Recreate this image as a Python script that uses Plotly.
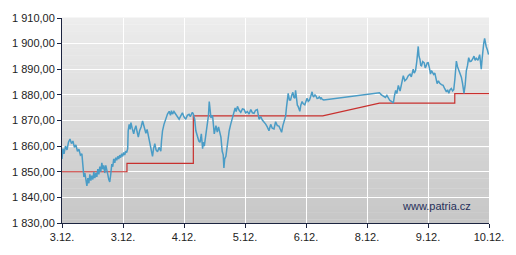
import plotly.graph_objects as go

# ---- data ----
day_ticks = [0, 1, 2, 3, 4, 5, 6, 7]
day_labels = ["3.12.", "3.12.", "4.12.", "5.12.", "6.12.", "8.12.", "9.12.", "10.12."]
y_ticks = [1830, 1840, 1850, 1860, 1870, 1880, 1890, 1900, 1910]
y_labels = ["1 830,00", "1 840,00", "1 850,00", "1 860,00", "1 870,00",
            "1 880,00", "1 890,00", "1 900,00", "1 910,00"]

price_x = [
    0, 0.016, 0.033, 0.057, 0.082, 0.106, 0.131, 0.155, 0.179, 0.204, 0.228, 0.253, 0.277, 0.302, 0.326,
    0.343, 0.359, 0.375, 0.392, 0.408, 0.424, 0.440, 0.457, 0.473, 0.489, 0.506, 0.522, 0.538, 0.555, 0.571,
    0.587, 0.604, 0.620, 0.636, 0.653, 0.669, 0.685, 0.701, 0.718, 0.734, 0.750, 0.767, 0.783, 0.799, 0.816,
    0.832, 0.848, 0.865, 0.881, 0.897, 0.914, 0.930, 0.946, 0.962, 0.979, 0.995, 1.011, 1.028, 1.044, 1.060, 1.077,
    1.085, 1.101, 1.117, 1.130, 1.150, 1.175, 1.191, 1.212, 1.232, 1.251, 1.272, 1.297, 1.321, 1.346, 1.375,
    1.395, 1.431, 1.452, 1.468, 1.484, 1.501, 1.522, 1.542, 1.566, 1.591, 1.620, 1.631, 1.648, 1.672, 1.701,
    1.729, 1.757, 1.778, 1.794, 1.811, 1.835, 1.865, 1.892, 1.920, 1.941, 1.974, 1.998, 2.028, 2.055, 2.083,
    2.104, 2.137, 2.153, 2.175,
    2.194, 2.219, 2.243, 2.263, 2.284, 2.305, 2.316, 2.333, 2.357, 2.387, 2.401, 2.414, 2.427, 2.442, 2.468,
    2.496, 2.524, 2.545, 2.566, 2.586, 2.605, 2.626, 2.643, 2.654, 2.667, 2.687, 2.708, 2.724, 2.741, 2.765,
    2.794, 2.814, 2.838, 2.855, 2.876, 2.904, 2.931, 2.958, 2.985, 3.010, 3.039, 3.067, 3.095, 3.121, 3.148,
    3.173, 3.202, 3.230, 3.258, 3.284, 3.312, 3.339, 3.365, 3.393, 3.421, 3.447, 3.475, 3.502, 3.529, 3.556,
    3.581, 3.600, 3.621, 3.638, 3.666, 3.679, 3.692,
    3.708, 3.728, 3.747, 3.768, 3.785, 3.801, 3.817, 3.829, 3.842, 3.858, 3.871, 3.886, 3.899, 3.915, 3.936,
    3.956, 3.980, 4.000, 4.018, 4.037, 4.057, 4.078, 4.100, 4.114, 4.127, 4.147, 4.165, 4.181, 4.197, 4.217,
    4.236, 4.250, 4.263, 4.290,
    5.204, 5.236, 5.269, 5.302, 5.326, 5.351, 5.375, 5.405, 5.432, 5.449, 5.470, 5.489, 5.514, 5.542, 5.563,
    5.595, 5.620, 5.649, 5.677, 5.705, 5.726, 5.758, 5.775, 5.796, 5.816, 5.829, 5.840, 5.853, 5.868, 5.881,
    5.894, 5.913, 5.938, 5.954, 5.966, 5.987, 6.003, 6.023, 6.041, 6.057, 6.073, 6.093, 6.112, 6.130, 6.150,
    6.171, 6.194, 6.220, 6.248, 6.272, 6.302, 6.321, 6.341, 6.362, 6.383, 6.403, 6.422, 6.440, 6.465, 6.484,
    6.504, 6.525, 6.547, 6.566, 6.590, 6.610, 6.628, 6.648, 6.667, 6.688, 6.710, 6.732, 6.754, 6.773, 6.791,
    6.819, 6.847, 6.860, 6.873, 6.887, 6.900, 6.913, 6.928, 6.941, 6.954, 6.974, 6.993,
]
price_y = [
    1855, 1859, 1857, 1860, 1858.5, 1861.5, 1862.8, 1861, 1862, 1859.5, 1860.5, 1858, 1858.8, 1856.5, 1857,
    1851, 1848, 1849.5, 1846, 1844.5, 1847.5, 1845.5, 1849, 1846.5, 1848.5, 1847, 1850, 1847.5, 1849.5, 1848,
    1851, 1849, 1852, 1850, 1853.5, 1851, 1852.5, 1849.5, 1852.5, 1850, 1849, 1847, 1846, 1849, 1853,
    1852, 1855, 1853.5, 1855.5, 1854.5, 1856, 1855, 1856.5, 1855.5, 1857, 1856, 1857.5, 1856.5, 1858, 1857.5, 1859,
    1866, 1868.5, 1866.5, 1869.2, 1867, 1864.8, 1866.5, 1868, 1865.5, 1863.5, 1866, 1867.5, 1869.8, 1867, 1865,
    1866.5, 1862.3, 1860, 1858.5, 1856, 1859, 1861, 1858.5, 1857.8, 1859.5, 1858, 1862, 1866, 1868.5, 1871,
    1872.5, 1873.6, 1872, 1873.8, 1872.5, 1873.5, 1872.4, 1871.5, 1870.5, 1871.5, 1873, 1871.5, 1870.5, 1872, 1872.4,
    1871.5, 1873.2, 1872.5, 1870.5,
    1866, 1864.2, 1862, 1861.5, 1864.8, 1859, 1861.5, 1860, 1864, 1869.8, 1872, 1877.4, 1874, 1871, 1872,
    1864.8, 1868, 1865.5, 1867.5, 1865, 1863.5, 1858, 1856.6, 1851.5, 1855, 1856, 1860.5, 1862.5, 1866, 1868.5,
    1871, 1873, 1874.9, 1873.5, 1875.5, 1874, 1873.2, 1874.5, 1874.3, 1873, 1873.5, 1872.5, 1874.3, 1873, 1872.8,
    1874, 1874.3, 1870.5, 1871.5, 1870.2, 1869.5, 1868.6, 1867.5, 1866, 1868.5, 1867, 1866.7, 1869.5, 1868, 1867.8,
    1866.5, 1865.4, 1868, 1869.5, 1871.7, 1874.9, 1879.3,
    1880.6, 1878, 1878, 1880, 1881, 1879, 1878.7, 1881.8, 1879, 1876, 1875.5, 1874.5, 1873.6, 1876, 1877.4,
    1876.5, 1876.1, 1877.5, 1878.7, 1877.5, 1878, 1879.5, 1881.2, 1879.5, 1879.3, 1880, 1879.5, 1878.6, 1878.7, 1879.2,
    1878.5, 1879, 1878.3, 1878,
    1880.8, 1880, 1879.5, 1879, 1879.8, 1878.7, 1877.8, 1877.4, 1876.8, 1879.5, 1881.7, 1880.5, 1883.7, 1881.5, 1884,
    1887.5, 1885.5, 1886.2, 1887.5, 1888.1, 1887, 1890, 1888.5, 1889.5, 1893, 1896.5, 1898.9, 1895, 1893.8, 1891.5,
    1891.3, 1893, 1892.5, 1890.5, 1891, 1892.5, 1892.6, 1890.5, 1888.1, 1889.5, 1889, 1888, 1888.5, 1886, 1884.4,
    1885.5, 1884.5, 1884, 1883.7, 1882.5, 1881.2, 1882, 1880.6, 1882, 1882.5, 1881.5, 1882, 1886, 1893.2, 1891,
    1889.9, 1888, 1886.9, 1884.5, 1880.6, 1884, 1889.4, 1891.5, 1894.5, 1893, 1893.2, 1894, 1895.1, 1893.5, 1894.3,
    1893.5, 1895.7, 1893, 1890, 1894, 1898.2, 1900, 1902, 1900, 1898.9, 1897.5, 1895.7,
]

ref_x = [0, 1.065, 1.065, 2.153, 2.153, 4.274, 5.204, 6.439, 6.439, 7]
ref_y = [1850, 1850, 1853.3, 1853.3, 1871.8, 1871.8, 1876.8, 1876.8, 1880.5, 1880.5]

fig = go.Figure()
fig.add_trace(go.Scatter(x=ref_x, y=ref_y, mode="lines",
                         line=dict(color="#c8302e", width=1.2), hoverinfo="skip"))
fig.add_trace(go.Scatter(x=price_x, y=price_y, mode="lines",
                         line=dict(color="#4a9cc6", width=1.5), hoverinfo="skip"))

# gradient background bands
shapes = []
n = 60
top = (237, 237, 237)
bot = (198, 198, 198)
for i in range(n):
    t = (i + 0.5) / n
    c = tuple(round(bot[k] + (top[k] - bot[k]) * t) for k in range(3))
    shapes.append(dict(type="rect", xref="x domain", yref="y domain",
                       x0=0, x1=1, y0=i / n, y1=(i + 1) / n + 0.002,
                       fillcolor="rgb(%d,%d,%d)" % c, line=dict(width=0), layer="below"))

axis_font = dict(family="Liberation Sans, Arial, sans-serif", size=11, color="#222222")
fig.update_layout(
    width=516, height=255,
    margin=dict(l=62, r=25, t=12, b=32),
    paper_bgcolor="white", plot_bgcolor="rgba(0,0,0,0)",
    showlegend=False, hovermode=False,
    shapes=shapes,
    xaxis=dict(range=[0, 7], tickvals=day_ticks, ticktext=day_labels,
               showgrid=True, gridcolor="white", gridwidth=1,
               zeroline=False, showline=True, linecolor="#1c2440", linewidth=1,
               ticks="outside", ticklen=4, tickcolor="#1c2440", tickfont=axis_font),
    yaxis=dict(range=[1830, 1910], tickvals=y_ticks, ticktext=y_labels,
               showgrid=True, gridcolor="white", gridwidth=1,
               zeroline=False, showline=True, linecolor="#1c2440", linewidth=1,
               ticks="outside", ticklen=4, tickcolor="#1c2440", tickfont=axis_font),
    annotations=[dict(text="www.patria.cz", xref="paper", yref="paper", x=0.962, y=0.085,
                      xanchor="right", yanchor="middle", showarrow=False,
                      font=dict(family="Liberation Sans, Arial, sans-serif", size=11, color="#26305a"))],
)

fig.write_html("out.html", config={"displayModeBar": False})
